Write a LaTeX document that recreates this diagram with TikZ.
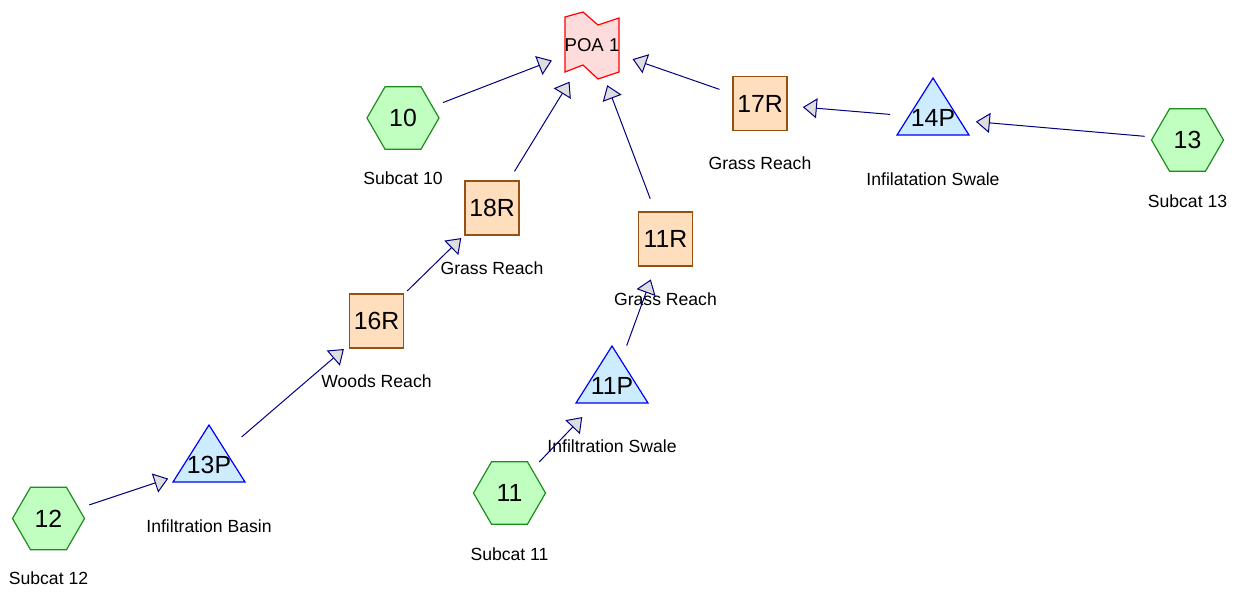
\documentclass[tikz,border=0pt]{standalone}
\usepackage{fontspec}
\setmainfont{Liberation Sans}
\usetikzlibrary{arrows.meta,shapes.geometric,calc}
\definecolor{subfill}{RGB}{192,255,192}
\definecolor{subdraw}{RGB}{30,140,30}
\definecolor{reachfill}{RGB}{255,222,190}
\definecolor{reachdraw}{RGB}{150,80,20}
\definecolor{pondfill}{RGB}{206,236,255}
\definecolor{ponddraw}{RGB}{0,0,255}
\definecolor{poafill}{RGB}{255,220,220}
\definecolor{poadraw}{RGB}{255,0,0}
\definecolor{flowblue}{RGB}{0,0,128}
\definecolor{tipgrey}{RGB}{222,222,222}
\tikzset{
  subcat/.style={regular polygon, regular polygon sides=6, minimum size=36pt, inner sep=0pt, draw=subdraw, fill=subfill, line width=0.6pt, font=\fontsize{12.4}{14}\selectfont},
  reach/.style={rectangle, minimum size=27pt, inner sep=0pt, draw=reachdraw, fill=reachfill, line width=0.6pt, font=\fontsize{12.4}{14}\selectfont},
  pondshape/.style={draw=ponddraw, fill=pondfill, line width=0.6pt},
  pondtext/.style={inner sep=0pt, font=\fontsize{12.4}{14}\selectfont},
  poashape/.style={draw=poadraw, fill=poafill, line width=0.6pt},
  poatext/.style={inner sep=0pt, font=\fontsize{9.3}{11}\selectfont},
  nodelabel/.style={inner sep=1pt, font=\fontsize{8.8}{10}\selectfont},
  flow/.style={draw=flowblue, line width=0.5pt, shorten <=21.5pt, shorten >=21.5pt, -{Triangle[length=7pt, width=10pt, fill=tipgrey]}}
}
\begin{document}
\begin{tikzpicture}[x=0.5pt, y=-0.5pt]
  \useasboundingbox (0,0) rectangle (1237,591);

  % outlet
  \draw[poashape] (592,45) ++(-27,-28) -- ++(18,-5) -- ++(15,13) -- ++(21,-7) -- ++(0,54) -- ++(-21,7) -- ++(-15,-14) -- ++(-18,7) -- cycle;
  \node[poatext] (poa) at (592,45) {POA 1};

  % subcatchments
  \node[subcat] (h10) at (403,118) {10};
  \node[subcat] (h12) at (48.5,518.5) {12};
  \node[subcat] (h11) at (509.5,493) {11};
  \node[subcat] (h13) at (1187.5,140) {13};
  \node[nodelabel] (h10l) at ($(h10)+(0,60)$) {Subcat 10};
  \node[nodelabel] (h12l) at ($(h12)+(0,60)$) {Subcat 12};
  \node[nodelabel] (h11l) at ($(h11)+(0,61)$) {Subcat 11};
  \node[nodelabel] (h13l) at ($(h13)+(0,61)$) {Subcat 13};

  % reaches
  \node[reach] (r18) at (492,208) {18R};
  \node[reach] (r16) at (376.5,321) {16R};
  \node[reach] (r11) at (665.5,239) {11R};
  \node[reach] (r17) at (760,103.5) {17R};
  \node[nodelabel] (r18l) at ($(r18)+(0,60)$) {Grass Reach};
  \node[nodelabel] (r16l) at ($(r16)+(0,60)$) {Woods Reach};
  \node[nodelabel] (r11l) at ($(r11)+(0,60)$) {Grass Reach};
  \node[nodelabel] (r17l) at ($(r17)+(0,60)$) {Grass Reach};

  % ponds
  \foreach \nm/\x/\y/\txt in {p13/209/463/13P, p11/612/384/11P, p14/933/116/14P} {
    \draw[pondshape] (\x,\y) ++(0,-38) -- ++(36,57) -- ++(-72,0) -- cycle;
    \node[pondtext] (\nm) at (\x,\y+2) {\txt};
  }
  \node[nodelabel] (p13l) at ($(p13)+(0,61)$) {Infiltration Basin};
  \node[nodelabel] (p11l) at ($(p11)+(0,60)$) {Infiltration Swale};
  \node[nodelabel] (p14l) at ($(p14)+(0,61)$) {Infilatation Swale};

  % routing
  \draw[flow] (h10.center) -- (poa.center);
  \draw[flow] (r18.center) -- (poa.center);
  \draw[flow] (r11.center) -- (poa.center);
  \draw[flow] (r17.center) -- (poa.center);
  \draw[flow] (p14.center) -- (r17.center);
  \draw[flow] (h13.center) -- (p14.center);
  \draw[flow] (h12.center) -- (p13.center);
  \draw[flow] (p13.center) -- (r16.center);
  \draw[flow] (r16.center) -- (r18.center);
  \draw[flow] (h11.center) -- (p11.center);
  \draw[flow] (p11.center) -- (r11.center);
\end{tikzpicture}
\end{document}
